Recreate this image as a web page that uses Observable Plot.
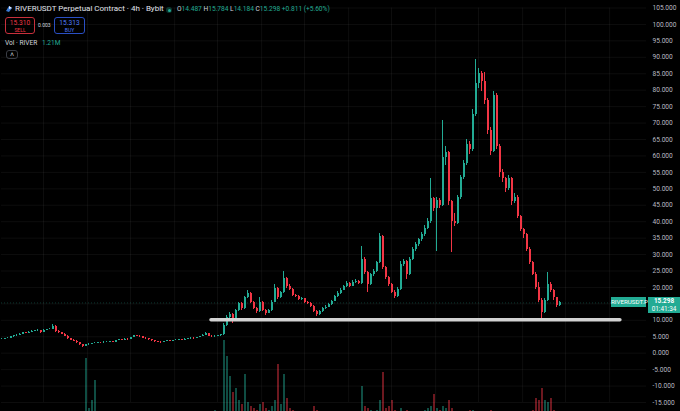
<!DOCTYPE html>
<html>
<head>
<meta charset="utf-8">
<script src="https://cdn.jsdelivr.net/npm/d3@7"></script>
<script src="https://cdn.jsdelivr.net/npm/@observablehq/plot@0.6"></script>
<style>
  html, body { margin: 0; padding: 0; background: #000; }
  #chart { position: relative; width: 680px; height: 411px; background: #000; overflow: hidden;
           font-family: Roboto, "Liberation Sans", sans-serif; color: #d1d4dc; }
  #chart .layer { position: absolute; left: 0; }
  .abs { position: absolute; white-space: nowrap; line-height: 1; }
  .up { color: #22ab94; }
  .box { position: absolute; border-radius: 3px; text-align: center; line-height: 1; box-sizing: border-box; }
</style>
</head>
<body>
<div id="chart">
  <div id="vol" class="layer" style="top:335px"></div>
  <div id="price" class="layer" style="top:0"></div>
</div>
<script>
// ---- data (4h candles, RIVERUSDT perpetual) ----
const open = [4.2,4.3,4.5,4.6,5.0,5.3,5.5,5.8,6.2,6.1, 6.4,6.6,6.8,6.9,6.3,7.0,7.2,7.3,8.2,6.6, 6.2,5.8,5.2,4.5,4.0,3.7,3.2,2.6,2.0,2.5, 2.7,2.9,3.0,3.2,3.1,3.3,3.4,3.5,3.4,3.9, 4.1,4.0,4.3,4.2,4.8,5.3,5.2,5.1,4.6,4.4, 4.1,3.8,3.6,3.4,3.2,3.6,3.8,3.7,3.9,4.0, 4.1,4.0,4.3,4.4,4.6,4.5,4.8,5.1,5.4,6.0, 5.2,5.0,5.1,5.3,5.6,8.5,11.0,11.8,10.2,12.9, 15.0,13.5,16.8,18.3,15.5,13.6,12.6,15.4,13.0,12.2, 13.0,15.5,19.6,16.8,18.5,22.6,20.3,19.4,17.6,17.2, 16.3,16.5,15.4,15.2,14.2,12.8,11.8,12.6,13.5,14.0, 14.8,15.8,17.2,18.3,19.2,20.2,21.3,20.4,21.6,21.8, 21.2,28.5,24.5,21.0,23.8,25.0,27.5,35.5,26.0,23.0, 20.8,18.6,17.2,19.5,27.0,27.8,24.0,28.5,31.5,33.0, 34.5,36.0,38.0,40.0,47.0,44.0,46.5,45.0,59.5,61.0, 46.0,40.0,39.5,47.4,53.4,57.6,63.5,62.0,72.7,82.0, 85.0,82.5,76.8,67.6,61.5,78.5,63.0,55.0,53.0,50.0, 53.0,46.0,47.5,41.5,37.5,36.0,31.5,27.5,24.0,20.0, 16.0,12.5,16.0,21.0,19.0,16.8,14.487];
const high = [4.5,4.6,4.8,5.1,5.4,5.7,5.9,6.4,6.3,6.5, 6.8,6.9,7.2,7.0,7.1,7.3,7.5,8.6,8.3,6.8, 6.3,5.9,5.3,4.6,4.2,3.8,3.3,2.7,2.7,2.9, 3.0,3.2,3.3,3.3,3.5,3.6,3.7,3.6,4.0,4.3, 4.2,4.4,4.4,4.9,5.5,5.5,5.3,5.2,4.7,4.5, 4.2,3.9,3.7,3.5,3.7,3.9,3.9,4.0,4.1,4.3, 4.2,4.4,4.5,4.8,4.7,4.9,5.2,5.6,6.3,6.1, 5.3,5.3,5.5,5.8,9.0,11.5,12.5,12.0,13.2,15.5, 15.3,17.2,19.2,18.6,15.8,14.0,17.0,15.6,13.3,13.4, 15.9,21.0,19.9,18.9,25.0,23.0,20.8,19.7,18.0,17.5, 16.9,16.7,15.8,15.4,14.4,13.0,12.9,13.8,14.4,15.1, 16.1,17.5,18.7,19.6,20.6,21.8,21.6,22.0,22.3,22.2, 32.5,29.0,25.0,24.3,25.6,28.0,36.5,35.8,26.4,23.4, 21.2,19.0,19.9,27.8,28.5,28.2,29.0,32.0,33.6,35.0, 36.8,38.8,41.0,53.0,47.5,47.5,47.0,70.7,63.0,61.5, 46.5,42.5,48.0,54.2,58.5,65.0,64.5,74.0,89.4,86.5, 85.8,85.5,77.5,68.5,79.5,79.0,63.5,56.0,53.5,54.0, 53.5,48.5,48.0,42.0,38.0,36.5,32.0,28.0,24.5,21.5, 16.5,16.5,24.6,21.5,19.5,17.0,15.784];
const low = [4.1,4.2,4.4,4.5,4.9,5.2,5.4,5.7,5.9,6.0, 6.3,6.5,6.7,6.1,6.2,6.9,7.1,7.2,6.4,6.0, 5.6,5.0,4.3,3.8,3.5,3.0,2.4,1.6,1.9,2.4, 2.6,2.8,2.9,2.9,3.0,3.2,3.3,3.2,3.3,3.8, 3.8,3.9,4.0,4.1,4.7,5.0,4.9,4.4,4.2,3.9, 3.6,3.4,3.2,3.0,3.1,3.5,3.5,3.6,3.8,3.9, 3.8,3.9,4.2,4.3,4.3,4.4,4.7,5.0,5.3,5.0, 4.8,4.9,5.0,5.2,5.5,8.2,10.6,9.0,10.0,12.6, 13.0,13.3,16.5,15.0,13.2,12.2,12.4,12.6,11.6,12.0, 12.8,15.3,16.3,16.5,18.2,19.8,19.0,17.2,16.8,15.9, 16.0,15.1,14.8,13.9,12.5,11.2,11.6,12.4,13.2,13.8, 14.6,15.6,17.0,18.0,19.0,19.9,20.0,20.2,21.2,20.8, 21.0,24.0,18.5,20.6,23.4,24.6,27.2,25.5,22.5,20.2, 18.2,16.5,17.0,19.2,26.5,22.5,23.7,28.2,31.0,32.5, 34.0,35.5,37.5,39.5,43.0,31.0,44.0,44.5,57.0,45.0, 30.7,38.5,39.0,46.8,52.8,57.0,60.5,61.5,72.0,80.5, 79.5,75.5,66.5,60.0,61.0,62.0,53.5,52.0,49.0,49.5, 45.0,45.5,41.0,37.0,35.0,31.0,27.0,23.5,19.5,15.5, 10.6,12.0,15.8,18.5,16.0,14.0,14.184];
const close = [4.3,4.5,4.6,5.0,5.3,5.5,5.8,6.2,6.1,6.4, 6.6,6.8,6.9,6.3,7.0,7.2,7.3,8.2,6.6,6.2, 5.8,5.2,4.5,4.0,3.7,3.2,2.6,2.0,2.5,2.7, 2.9,3.0,3.2,3.1,3.3,3.4,3.5,3.4,3.9,4.1, 4.0,4.3,4.2,4.8,5.3,5.2,5.1,4.6,4.4,4.1, 3.8,3.6,3.4,3.2,3.6,3.8,3.7,3.9,4.0,4.1, 4.0,4.3,4.4,4.6,4.5,4.8,5.1,5.4,6.0,5.2, 5.0,5.1,5.3,5.6,8.5,11.0,11.8,10.2,12.9,15.0, 13.5,16.8,18.3,15.5,13.6,12.6,15.4,13.0,12.2,13.0, 15.5,19.6,16.8,18.5,22.6,20.3,19.4,17.6,17.2,16.3, 16.5,15.4,15.2,14.2,12.8,11.8,12.6,13.5,14.0,14.8, 15.8,17.2,18.3,19.2,20.2,21.3,20.4,21.6,21.8,21.2, 28.5,24.5,21.0,23.8,25.0,27.5,35.5,26.0,23.0,20.8, 18.6,17.2,19.5,27.0,27.8,24.0,28.5,31.5,33.0,34.5, 36.0,38.0,40.0,47.0,44.0,46.5,45.0,59.5,61.0,46.0, 40.0,39.5,47.4,53.4,57.6,63.5,62.0,72.7,82.0,85.0, 82.5,76.8,67.6,61.5,78.5,63.0,55.0,53.0,50.0,53.0, 46.0,47.5,41.5,37.5,36.0,31.5,27.5,24.0,20.0,16.0, 12.5,16.0,21.0,19.0,16.8,14.487,15.298];
// volume in millions
const volume = [0.3,0.3,0.2,0.3,0.4,0.3,0.3,0.5,0.3,0.3, 0.3,0.3,0.4,0.5,0.3,0.3,0.4,1.2,1.0,0.5, 0.4,0.5,0.6,0.5,0.6,0.8,1.2,3.0,31,6, 10,20,2,1,0.8,0.6,0.5,0.5,0.8,0.6, 0.4,0.5,0.4,0.6,0.8,0.5,0.4,0.5,0.4,0.4, 0.4,0.3,0.3,0.4,0.5,0.4,0.3,0.3,0.3,0.3, 0.3,0.4,0.3,0.4,0.3,0.4,0.5,0.6,1.2,0.8, 1.0,5,1.2,3,40,32,22,14,16,10, 8,23,9,7,6,5,8,9,6,5, 7,10,28,8,23,11,6,5,4,4, 3.5,3.5,3,3.5,7,5,3,3,3.5,3, 3,3.5,3,3.5,3.5,4,3.5,3.5,4,3.5, 17,7,6,5,4,5,10,24,6,7, 10,5,4,6,4,5,4,4,4,4, 4.5,5,6,7,13,6,5,7,6,10, 6,4,4,4,4.5,4,5,5,4,4, 4,4,4,5,4,4,4,4,3.5,3.5, 3.5,3.5,4,4,4,4.5,4.5,5,11,10, 16,10,9,11,5,4,1.21];

// price axis tick labels (15.000 is hidden by the live price label) and time grid (candle index positions)
const gridTicks = [-15,-10,-5,0,5,10,15,20,25,30,35,40,45,50,55,60,65,70,75,80,85,90,95,100,105];
const labelTicks = [-15,-10,-5,0,5,10,20,25,30,35,40,45,50,55,60,65,70,75,80,85,90,95,100,105];
const timeGrid = [14,28.7,43,57.7,72,86.7,101,115.7,130,144.7,159,173.7,188,202.7];
// drawn horizontal support line: level, from candle, to candle
const supportLevel = [10.2];
const supportFrom = [70];
const supportTo = [206.3];

const lastOHLC = {o: "14.487", h: "15.784", l: "14.184", c: "15.298", chg: "+0.811 (+5.60%)"};
const lastPrice = 15.298;

const UP = "#22ab94", DOWN = "#f23645";
const candles = close.map((c, i) => ({i, open: open[i], high: high[i], low: low[i], close: c, vol: volume[i], up: c >= open[i]}));
const supports = supportLevel.map((y, k) => ({y, x1: supportFrom[k], x2: supportTo[k]}));

const X = {domain: [0, 215], axis: null};

const pricePlot = Plot.plot({
  width: 680, height: 411,
  marginLeft: 1, marginRight: 34, marginTop: 7.5, marginBottom: 9,
  style: {background: "transparent", color: "#b2b5be", fontFamily: "Roboto, sans-serif", overflow: "visible"},
  x: X,
  y: {domain: [-15, 105], axis: null},
  marks: [
    Plot.ruleY(gridTicks, {stroke: "#ffffff", strokeOpacity: 0.05}),
    Plot.ruleX(timeGrid, {y1: -15, y2: 105, stroke: "#ffffff", strokeOpacity: 0.05}),
    Plot.axisY({ticks: labelTicks, anchor: "right", tickSize: 0, tickPadding: 6,
                tickFormat: d => d.toFixed(3), fill: "#b8bac2", fontSize: 6.6, textAnchor: "start"}),
    Plot.ruleY([lastPrice], {stroke: UP, strokeOpacity: 0.3, strokeDasharray: "1,2"}),
    Plot.ruleX(candles, {x: "i", y1: "low", y2: "high", stroke: d => d.up ? UP : DOWN, strokeWidth: 1, shapeRendering: "crispEdges"}),
    Plot.ruleX(candles, {x: "i", y1: "open", y2: "close", stroke: d => d.up ? UP : DOWN, strokeWidth: 2, shapeRendering: "crispEdges"}),
    Plot.ruleY(supports, {y: "y", x1: "x1", x2: "x2", stroke: "#d2d2d2", strokeWidth: 3.5, strokeLinecap: "round"})
  ]
});
document.getElementById("price").appendChild(pricePlot);

const volPlot = Plot.plot({
  width: 680, height: 80,
  marginLeft: 1, marginRight: 34, marginTop: 0, marginBottom: 0,
  style: {background: "transparent"},
  x: X,
  y: {domain: [2.5, 42.5], axis: null},
  marks: [
    Plot.ruleX(candles, {x: "i", y1: 0, y2: "vol", stroke: d => d.up ? UP : DOWN, strokeOpacity: 0.45, strokeWidth: 2, shapeRendering: "crispEdges", clip: true})
  ]
});
document.getElementById("vol").appendChild(volPlot);

// ---- overlays (legend / header / price labels) ----
const chart = document.getElementById("chart");
function add(html) { chart.insertAdjacentHTML("beforeend", html); }
const py = pricePlot.scale("y").apply(lastPrice);

add(`<svg class="abs" style="left:5px;top:5px" width="8" height="8" viewBox="0 0 8 8"><path d="M1 6 L4 1 L7 3 L4 7 Z" fill="#3a7bd5"/><path d="M4 1 L7 3 L4 4 Z" fill="#e8eefc"/></svg>`);
add(`<div class="abs" style="left:15px;top:5px;font-size:8px;color:#e0e3eb">RIVERUSDT Perpetual Contract · 4h · Bybit</div>`);
add(`<div class="abs" style="left:166px;top:7px;width:6px;height:6px;border-radius:50%;background:rgba(34,171,148,0.3)"></div>`);
add(`<div class="abs" style="left:167.5px;top:8.5px;width:3px;height:3px;border-radius:50%;background:${UP}"></div>`);
add(`<div class="abs" style="left:177px;top:6px;font-size:6.6px;color:#d1d4dc">O<span class="up">${lastOHLC.o}</span> H<span class="up">${lastOHLC.h}</span> L<span class="up">${lastOHLC.l}</span> C<span class="up">${lastOHLC.c}</span> <span class="up">${lastOHLC.chg}</span></div>`);

add(`<div class="box" style="left:5px;top:17px;width:30px;height:17px;border:1px solid #c8303c;color:#f23645;padding-top:2px"><div style="font-size:6.6px">15.310</div><div style="font-size:5px;margin-top:1.5px">SELL</div></div>`);
add(`<div class="abs" style="left:38px;top:23px;font-size:5px;color:#d1d4dc">0.003</div>`);
add(`<div class="box" style="left:54px;top:17px;width:31px;height:17px;border:1px solid #2a4fc4;color:#4f7cff;padding-top:2px"><div style="font-size:6.6px">15.313</div><div style="font-size:5px;margin-top:1.5px">BUY</div></div>`);
add(`<div class="abs" style="left:5px;top:40px;font-size:6.6px;color:#d1d4dc">Vol · RIVER <span class="up" style="margin-left:3px">1.21M</span></div>`);
add(`<div class="box" style="left:6px;top:50px;width:12px;height:9px;border:1px solid #3a3d45;color:#d1d4dc;font-size:7px;line-height:9px">&#708;</div>`);

add(`<div class="abs" style="left:611px;top:${py - 5}px;width:35px;height:10px;background:${UP};color:#fff;font-size:6.2px;line-height:10px;text-align:center">RIVERUSDT.P</div>`);
add(`<div class="abs" style="left:648px;top:${py - 5}px;width:32px;height:16px;background:${UP};color:#fff;font-size:6.4px;text-align:center;padding-top:1px;box-sizing:border-box"><div style="font-weight:bold">15.298</div><div style="margin-top:1px">01:41:34</div></div>`);
</script>
</body>
</html>
